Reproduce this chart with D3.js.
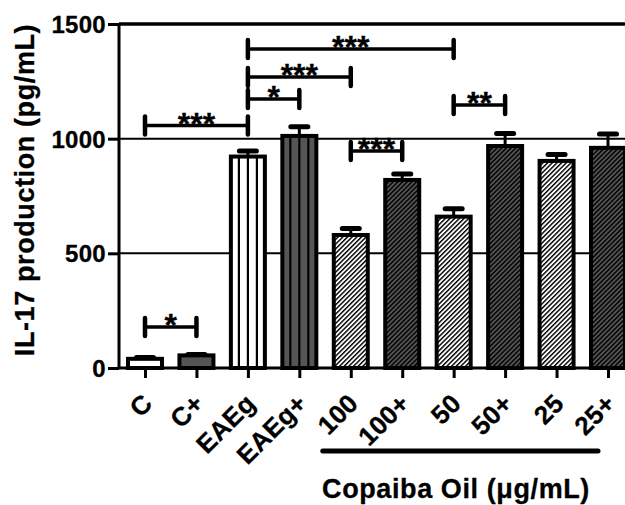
<!DOCTYPE html>
<html>
<head>
<meta charset="utf-8">
<script src="https://cdn.jsdelivr.net/npm/d3@7"></script>
<style>
  body { margin: 0; background: #fff; }
  svg { display: block; }
  text { font-family: "Liberation Sans", Arial, sans-serif; font-weight: bold; fill: #000; stroke: #000; stroke-width: 0.3px; }
</style>
</head>
<body>
<div class="wrapper"></div>
<script>
// values
var categories = ["C", "C+", "EAEg", "EAEg+", "100", "100+", "50", "50+", "25", "25+"];
var means = [40, 55, 922, 1012, 580, 820, 660, 968, 903, 960];
var errors = [6, 4, 24, 40, 28, 26, 34, 55, 28, 60];
// fill kind for each bar: plain, vertical stripes, diagonal hatch
var fills = ["plain", "plain", "stripe", "stripe", "hatch", "hatch", "hatch", "hatch", "hatch", "hatch"];
var dark = [false, true, false, true, false, true, false, true, false, true];
var yTicks = [0, 500, 1000, 1500];
var gridValues = [500, 1000, 1500];
// significance brackets: from, to, height (pg/mL), label
var brackets = [
  ["C", "C+", 179, "*"],
  ["C", "EAEg", 1057, "***"],
  ["EAEg", "EAEg+", 1173, "*"],
  ["EAEg", "100", 1269, "***"],
  ["EAEg", "50", 1391, "***"],
  ["100", "100+", 946, "***"],
  ["50", "50+", 1147, "**"]
];
var groupLabel = "Copaiba Oil (\u03bcg/mL)";
var yLabel = "IL-17 production (pg/mL)";

var W = 625, H = 505;
var gray = "#555";
var bw = 34;

var x = d3.scalePoint().domain(categories).range([145, 608]);
var y = d3.scaleLinear().domain([0, 1500]).range([368, 24]);

var svg = d3.select(".wrapper").append("svg").attr("width", W).attr("height", H);

var defs = svg.append("defs");
[["hatchW", "#fff"], ["hatchD", gray]].forEach(function (p) {
  var pat = defs.append("pattern")
    .attr("id", p[0])
    .attr("patternUnits", "userSpaceOnUse")
    .attr("width", 3.3).attr("height", 3.3)
    .attr("patternTransform", "rotate(45)");
  pat.append("rect").attr("width", 3.3).attr("height", 3.3).attr("fill", p[1]);
  pat.append("line").attr("x1", 0.7).attr("x2", 0.7).attr("y1", 0).attr("y2", 3.3)
    .attr("stroke", "#000").attr("stroke-width", 1.5);
});

// grid lines
svg.append("g").selectAll("line").data(gridValues).enter().append("line")
  .attr("x1", 119).attr("x2", W)
  .attr("y1", function (d) { return y(d); })
  .attr("y2", function (d) { return y(d); })
  .attr("stroke", "#000")
  .attr("stroke-width", function (d) { return d === 1500 ? 3.5 : 2; });

var data = categories.map(function (c, i) {
  return { cat: c, v: means[i], e: errors[i], fill: fills[i], dark: dark[i] };
});

// error bars (upper only)
var eb = svg.append("g");
eb.selectAll("line.v").data(data).enter().append("line")
  .attr("x1", function (d) { return x(d.cat); })
  .attr("x2", function (d) { return x(d.cat); })
  .attr("y1", function (d) { return y(d.v); })
  .attr("y2", function (d) { return y(d.v + d.e); })
  .attr("stroke", "#000").attr("stroke-width", 3);
eb.selectAll("line.c").data(data).enter().append("line")
  .attr("x1", function (d) { return x(d.cat) - 8.5; })
  .attr("x2", function (d) { return x(d.cat) + 8.5; })
  .attr("y1", function (d) { return y(d.v + d.e); })
  .attr("y2", function (d) { return y(d.v + d.e); })
  .attr("stroke", "#000").attr("stroke-width", 5).attr("stroke-linecap", "round");

// bars
var bars = svg.append("g").selectAll("g").data(data).enter().append("g");
bars.append("rect")
  .attr("x", function (d) { return x(d.cat) - bw / 2; })
  .attr("width", bw)
  .attr("y", function (d) { return y(d.v); })
  .attr("height", function (d) { return y(0) - y(d.v); })
  .attr("fill", function (d) {
    if (d.fill === "hatch") return d.dark ? "url(#hatchD)" : "url(#hatchW)";
    return d.dark ? gray : "#fff";
  });
bars.filter(function (d) { return d.fill === "stripe"; })
  .selectAll("line").data(function (d) {
    return [-9, 0, 9].map(function (o) { return { d: d, o: o }; });
  }).enter().append("line")
  .attr("x1", function (s) { return x(s.d.cat) + s.o; })
  .attr("x2", function (s) { return x(s.d.cat) + s.o; })
  .attr("y1", function (s) { return y(s.d.v); })
  .attr("y2", y(0))
  .attr("stroke", "#000").attr("stroke-width", 2.2);
bars.append("rect")
  .attr("x", function (d) { return x(d.cat) - bw / 2; })
  .attr("width", bw)
  .attr("y", function (d) { return y(d.v); })
  .attr("height", function (d) { return y(0) - y(d.v); })
  .attr("fill", "none").attr("stroke", "#000").attr("stroke-width", 4);

// axes
var yAxis = svg.append("g").attr("transform", "translate(119,0)")
  .call(d3.axisLeft(y).tickValues(yTicks).tickSize(11).tickPadding(2).tickFormat(d3.format("d")));
yAxis.select(".domain").attr("stroke-width", 3).attr("d", "M0," + y(1500) + "V" + y(0));
yAxis.selectAll(".tick line").attr("stroke-width", 3);
yAxis.selectAll(".tick text")
  .style("font-size", "24px").style("letter-spacing", "0.3px")
  .attr("font-family", null).attr("dy", "0.36em");

var xAxis = svg.append("g").attr("transform", "translate(0," + y(0) + ")")
  .call(d3.axisBottom(x).tickSize(10).tickFormat(""));
xAxis.select(".domain").attr("stroke-width", 3).attr("d", "M118,0H" + W);
xAxis.selectAll(".tick line").attr("stroke-width", 3);

svg.append("g").selectAll("text").data(categories).enter().append("text")
  .attr("transform", function (d) { return "translate(" + (x(d) + 9) + ",405) rotate(-45)"; })
  .attr("text-anchor", "end")
  .style("font-size", "26px").style("letter-spacing", "0.3px")
  .text(function (d) { return d; });

// y title
svg.append("text")
  .attr("transform", "translate(34,190) rotate(-90)")
  .attr("text-anchor", "middle")
  .style("font-size", "27px").style("letter-spacing", "0.6px")
  .text(yLabel);

// group underline and label
svg.append("line")
  .attr("x1", x("100") - 28).attr("x2", x("25+") - 10)
  .attr("y1", 451).attr("y2", 451)
  .attr("stroke", "#000").attr("stroke-width", 5).attr("stroke-linecap", "round");
svg.append("text")
  .attr("x", 456).attr("y", 498)
  .attr("text-anchor", "middle")
  .style("font-size", "27px").style("letter-spacing", "0.6px")
  .text(groupLabel);

// significance brackets
var br = svg.append("g").selectAll("g").data(brackets).enter().append("g");
br.append("line")
  .attr("x1", function (b) { return x(b[0]); })
  .attr("x2", function (b) { return x(b[1]); })
  .attr("y1", function (b) { return y(b[2]); })
  .attr("y2", function (b) { return y(b[2]); })
  .attr("stroke", "#000").attr("stroke-width", 3.5);
br.selectAll("line.cap").data(function (b) {
  return [[x(b[0]), y(b[2])], [x(b[1]), y(b[2])]];
}).enter().append("line")
  .attr("x1", function (p) { return p[0]; })
  .attr("x2", function (p) { return p[0]; })
  .attr("y1", function (p) { return p[1] - 9; })
  .attr("y2", function (p) { return p[1] + 9; })
  .attr("stroke", "#000").attr("stroke-width", 4.5).attr("stroke-linecap", "round");
br.append("text")
  .attr("x", function (b) { return (x(b[0]) + x(b[1])) / 2; })
  .attr("y", function (b) { return y(b[2]) + 9; })
  .attr("text-anchor", "middle")
  .style("font-size", "32px")
  .text(function (b) { return b[3]; });
</script>
</body>
</html>
